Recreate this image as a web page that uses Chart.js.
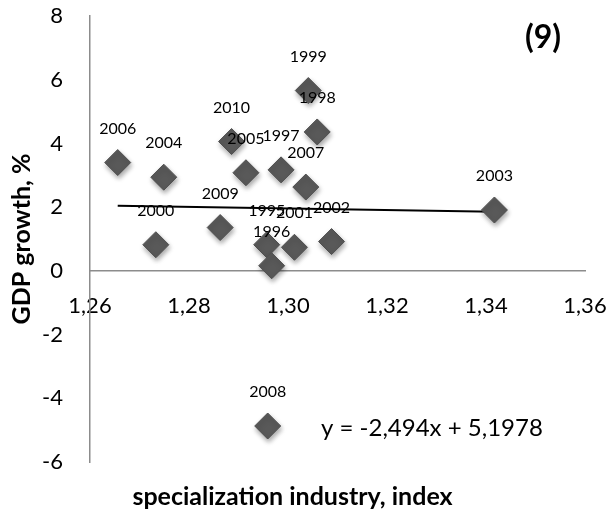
<!DOCTYPE html>
<html>
<head>
<meta charset="utf-8">
<script src="https://cdn.jsdelivr.net/npm/chart.js@4/dist/chart.umd.min.js"></script>
<style>
  html, body { margin: 0; padding: 0; background: #ffffff; }
  #wrap { width: 610px; height: 514px; position: relative; }
</style>
</head>
<body>
<div id="wrap"><canvas id="c" width="610" height="514"></canvas></div>
<script>
// ---- data ----
const years = ['1995','1996','1997','1998','1999','2000','2001','2002','2003','2004','2005','2006','2007','2008','2009','2010'];
const specIndex = [1.2957, 1.2967, 1.2986, 1.3059, 1.3041, 1.2733, 1.3013, 1.3088, 1.3417, 1.2749, 1.2915, 1.2656, 1.3036, 1.2959, 1.2863, 1.2886];
const gdpGrowth = [0.82, 0.16, 3.17, 4.36, 5.66, 0.82, 0.74, 0.92, 1.91, 2.94, 3.08, 3.40, 2.63, -4.87, 1.36, 4.06];
const trendSlope = -2.494;
const trendIntercept = 5.1978;
const equationText = 'y = -2,494x + 5,1978';
const panelLabel = '(9)';
const xTitle = 'specialization industry, index';
const yTitle = 'GDP growth, %';
const xTicks = [1.26, 1.28, 1.30, 1.32, 1.34, 1.36];
const yTicks = [-6, -4, -2, 0, 2, 4, 6, 8];

const FONT = 'Lato, "Open Sans", sans-serif';

const points = specIndex.map((x, i) => ({ x: x, y: gdpGrowth[i] }));
const xMinData = Math.min(...specIndex);
const xMaxData = Math.max(...specIndex);
const trendPoints = [
  { x: xMinData, y: trendSlope * xMinData + trendIntercept },
  { x: xMaxData, y: trendSlope * xMaxData + trendIntercept }
];

const shadowPlugin = {
  id: 'shadowPlugin',
  beforeDatasetDraw(chart, args) {
    if (args.index === 1) {
      const ctx = chart.ctx;
      ctx.save();
      ctx.shadowColor = 'rgba(0,0,0,0.35)';
      ctx.shadowBlur = 5;
      ctx.shadowOffsetX = 1;
      ctx.shadowOffsetY = 3;
    }
  },
  afterDatasetDraw(chart, args) {
    if (args.index === 1) chart.ctx.restore();
  }
};

const labelPlugin = {
  id: 'labelPlugin',
  afterDatasetsDraw(chart) {
    const ctx = chart.ctx;
    const meta = chart.getDatasetMeta(1);
    ctx.save();
    ctx.fillStyle = '#000';
    ctx.font = '16px ' + FONT;
    ctx.textAlign = 'center';
    ctx.textBaseline = 'middle';
    meta.data.forEach((el, i) => {
      ctx.fillText(years[i], el.x, el.y - 34);
    });
    ctx.font = '24px ' + FONT;
    ctx.textAlign = 'left';
    ctx.fillText(equationText, 321, 428);
    ctx.font = 'bold 32px ' + FONT;
    ctx.textAlign = 'center';
    ctx.fillText(panelLabel, 543, 38);
    ctx.restore();
  }
};

new Chart(document.getElementById('c'), {
  data: {
    datasets: [
      {
        type: 'line',
        data: trendPoints,
        borderColor: '#000000',
        borderWidth: 2,
        pointRadius: 0,
        fill: false,
        order: 2
      },
      {
        type: 'scatter',
        data: points,
        pointStyle: 'rectRot',
        pointRadius: 13,
        backgroundColor: '#595959',
        borderColor: '#4f4f4f',
        borderWidth: 1,
        order: 1
      }
    ]
  },
  options: {
    responsive: false,
    animation: false,
    layout: { padding: { left: 0, right: 25, top: 16, bottom: 0 } },
    plugins: {
      legend: { display: false },
      tooltip: { enabled: false },
      title: {
        display: true,
        position: 'bottom',
        text: xTitle,
        color: '#000',
        font: { family: FONT, size: 25, weight: 'bold', lineHeight: 1.2 },
        padding: { top: 20, bottom: 2 }
      }
    },
    scales: {
      x: {
        type: 'linear',
        position: { y: 0 },
        min: xTicks[0],
        max: xTicks[xTicks.length - 1],
        afterBuildTicks(scale) { scale.ticks = xTicks.map(v => ({ value: v })); },
        afterFit(scale) { scale.height = 0; },
        grid: { display: false, drawTicks: true, tickLength: 22 },
        border: { display: true, color: '#8c8c8c', width: 1.5 },
        ticks: {
          padding: 0,
          maxRotation: 0,
          color: '#000',
          font: { family: FONT, size: 22 },
          callback: v => Number(v).toFixed(2).replace('.', ',')
        }
      },
      y: {
        type: 'linear',
        position: 'left',
        min: yTicks[0],
        max: yTicks[yTicks.length - 1],
        afterBuildTicks(scale) { scale.ticks = yTicks.map(v => ({ value: v })); },
        afterFit(scale) { scale.width = 90; },
        grid: { display: false, drawTicks: true, tickLength: 25 },
        border: { display: true, color: '#8c8c8c', width: 1.5 },
        title: {
          display: true,
          text: yTitle,
          color: '#000',
          font: { family: FONT, size: 25, weight: 'bold', lineHeight: 1.2 },
          padding: { top: 7, bottom: 0 }
        },
        ticks: {
          padding: 2,
          color: '#000',
          font: { family: FONT, size: 22 },
          callback: v => String(v)
        }
      }
    }
  },
  plugins: [shadowPlugin, labelPlugin]
});
</script>
</body>
</html>
